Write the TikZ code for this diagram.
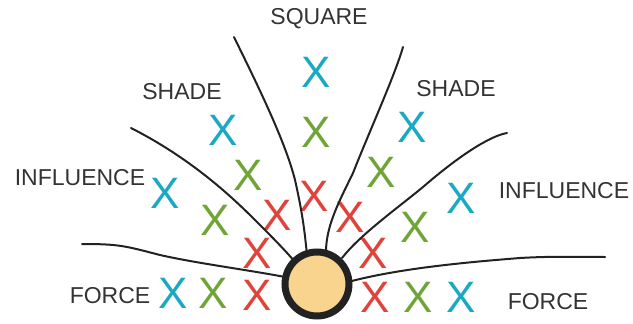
\documentclass[tikz,border=0pt]{standalone}
\usepackage{fontspec}
\setmainfont{Liberation Sans}
\definecolor{xblue}{HTML}{1AA9C2}
\definecolor{xgreen}{HTML}{6FA536}
\definecolor{xred}{HTML}{E0433B}
\definecolor{sunfill}{HTML}{F9D48E}
\definecolor{ink}{HTML}{222222}
\definecolor{lbl}{HTML}{333333}
\begin{document}
\begin{tikzpicture}[x=1pt,y=-1pt,
  lab/.style={text=lbl,font=\fontsize{23}{26}\selectfont,inner sep=0pt},
  xm/.style={font=\fontsize{44}{46}\selectfont,inner sep=0pt},
  xb/.style={xm,text=xblue},
  xg/.style={xm,text=xgreen},
  xr/.style={xm,text=xred},
  ray/.style={draw=ink,line width=2pt,line cap=round,line join=round}]
\useasboundingbox (0,0) rectangle (633,324);
% labels
\node[lab] (sq) at (319,19) {SQUARE};
\node[lab] (shl) at (182,92) {SHADE};
\node[lab] (shr) at (456,89) {SHADE};
\node[lab] (inl) at (80,178) {INFLUENCE};
\node[lab] (inr) at (564,191) {INFLUENCE};
\node[lab] (fol) at (110,296) {FORCE};
\node[lab] (for) at (548,302) {FORCE};
% X marks
\node[xb] (x1) at (316,72) {X};
\node[xg] (x2) at (316,132) {X};
\node[xr] (x3) at (314,196) {X};
\node[xb] (x4) at (223,130) {X};
\node[xg] (x5) at (248,175) {X};
\node[xr] (x6) at (277,215) {X};
\node[xr] (x7) at (257,253) {X};
\node[xr] (x8) at (257,295) {X};
\node[xg] (x9) at (213,293) {X};
\node[xb] (x10) at (173,293) {X};
\node[xb] (x11) at (165,193) {X};
\node[xg] (x12) at (215,220) {X};
\node[xb] (x13) at (412,127) {X};
\node[xg] (x14) at (381,172) {X};
\node[xr] (x15) at (350,217) {X};
\node[xr] (x16) at (373,253) {X};
\node[xr] (x17) at (375,297) {X};
\node[xg] (x18) at (418,297) {X};
\node[xb] (x19) at (461,297) {X};
\node[xb] (x20) at (461,198) {X};
\node[xg] (x21) at (415,227) {X};
% rays
\coordinate (a1) at (82,244);
\coordinate (a2) at (131,128);
\coordinate (a3) at (234,37);
\coordinate (a4) at (403,47);
\coordinate (a5) at (507,133);
\coordinate (a6) at (605,257);
\draw[ray] (a1) .. controls (120,244) and (125,246) .. (160,255) .. controls (200,264) and (250,270) .. (290,278);
\draw[ray] (a2) .. controls (190,158) and (230,195) .. (255,220) .. controls (270,235) and (285,250) .. (295,262);
\draw[ray] (a3) .. controls (255,80) and (285,140) .. (295,180) .. controls (303,215) and (305,235) .. (307,255);
\draw[ray] (a4) .. controls (395,75) and (370,130) .. (353,173) .. controls (340,200) and (326,225) .. (326,252);
\draw[ray] (a5) .. controls (490,136) and (460,155) .. (423,187) .. controls (395,210) and (360,235) .. (342,258);
\draw[ray] (a6) .. controls (580,257) and (555,256) .. (520,258) .. controls (470,262) and (400,268) .. (348,282);
% sun
\node[circle,draw=ink,fill=sunfill,line width=7pt,minimum size=64pt,inner sep=0pt] (sun) at (317,284) {};
\end{tikzpicture}
\end{document}
